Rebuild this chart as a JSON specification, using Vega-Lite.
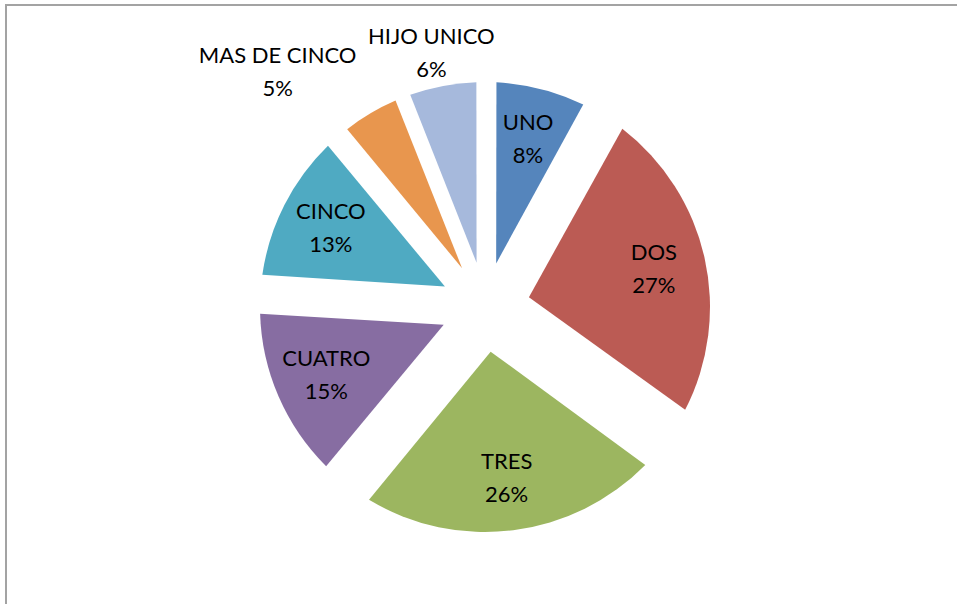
{
  "$schema": "https://vega.github.io/schema/vega-lite/v6.json",
  "width": 958,
  "height": 604,
  "autosize": {"type": "none"},
  "padding": {"left": 6, "top": 5, "right": 0, "bottom": 0},
  "background": "white",
  "config": {"view": {"stroke": null}},
  "data": {"values": [
    {"cat": "UNO", "pct": 8, "ord": 1},
    {"cat": "DOS", "pct": 27, "ord": 2},
    {"cat": "TRES", "pct": 26, "ord": 3},
    {"cat": "CUATRO", "pct": 15, "ord": 4},
    {"cat": "CINCO", "pct": 13, "ord": 5},
    {"cat": "MAS DE CINCO", "pct": 5, "ord": 6},
    {"cat": "HIJO UNICO", "pct": 6, "ord": 7}
  ]},
  "transform": [{"calculate": "datum.cat + '\\n' + datum.pct + '%'", "as": "txt"}],
  "layer": [
    {
      "mark": {"type": "rect", "fill": null, "stroke": "#a3a3a3", "strokeWidth": 2},
      "encoding": {}
    },
    {
      "mark": {"type": "arc", "radius": 225, "radius2": 45,
               "padAngle": {"expr": "2*asin(46*sin(PI*datum.pct/100)/229.5)"}},
      "encoding": {
        "theta": {"field": "pct", "type": "quantitative", "stack": true},
        "order": {"field": "ord", "type": "quantitative", "sort": "ascending"},
        "color": {"field": "cat", "type": "nominal", "legend": null,
          "scale": {"domain": ["UNO", "DOS", "TRES", "CUATRO", "CINCO", "MAS DE CINCO", "HIJO UNICO"],
                    "range": ["#5585BC", "#BB5B54", "#9CB660", "#876DA2", "#4FAAC2", "#E8964E", "#A6B9DC"]}}
      }
    },
    {
      "mark": {"type": "text", "radius": 173, "dy": -16.5, "font": "Lato", "fontSize": 22, "lineBreak": "\n", "lineHeight": 33, "color": "#000000", "align": "center", "baseline": "middle"},
      "encoding": {
        "theta": {"field": "pct", "type": "quantitative", "stack": true},
        "order": {"field": "ord", "type": "quantitative", "sort": "ascending"},
        "text": {"condition": {"test": "datum.ord <= 5", "field": "txt"}, "value": ""}}
    },
    {
      "mark": {"type": "text", "radius": 259, "dy": -16.5, "thetaOffset": -0.02, "font": "Lato", "fontSize": 22, "lineBreak": "\n", "lineHeight": 33, "color": "#000000", "align": "center", "baseline": "middle"},
      "encoding": {
        "theta": {"field": "pct", "type": "quantitative", "stack": true},
        "order": {"field": "ord", "type": "quantitative", "sort": "ascending"},
        "text": {"condition": {"test": "datum.ord == 7", "field": "txt"}, "value": ""}}
    },
    {
      "mark": {"type": "text", "radius": 313, "dy": -16.5, "thetaOffset": -0.19, "font": "Lato", "fontSize": 22, "lineBreak": "\n", "lineHeight": 33, "color": "#000000", "align": "center", "baseline": "middle"},
      "encoding": {
        "theta": {"field": "pct", "type": "quantitative", "stack": true},
        "order": {"field": "ord", "type": "quantitative", "sort": "ascending"},
        "text": {"condition": {"test": "datum.ord == 6", "field": "txt"}, "value": ""}}
    }
  ]
}
